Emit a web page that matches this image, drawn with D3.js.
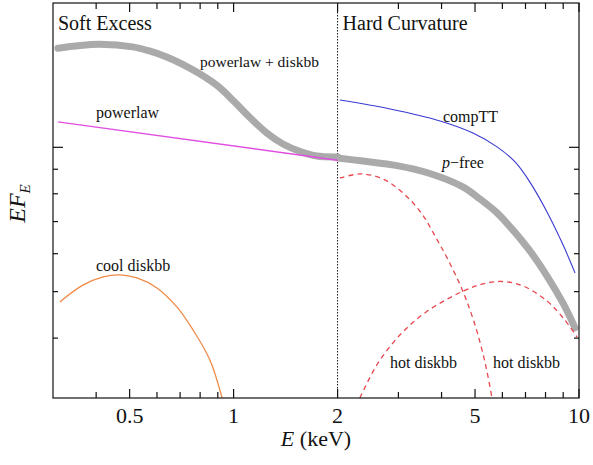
<!DOCTYPE html>
<meta charset="utf-8">
<script src="https://d3js.org/d3.v7.min.js"></script>
<style>
body { margin: 0; background: #fff; }
text { font-family: "Liberation Serif", "Times New Roman", serif; fill: #111; }
</style>
<div id="my_dataviz"></div>
<script>

// spectral components, E in keV, EF_E in arbitrary units (log)
var plddE  = [0.31, 0.35, 0.41, 0.51, 0.57, 0.64, 0.71, 0.80, 0.90, 1.0, 1.12, 1.25, 1.39, 1.56, 1.74, 2.0];
var plddF  = [16.1, 16.27, 16.4, 16.2, 15.89, 15.44, 14.92, 14.22, 13.42, 12.49, 11.5, 10.7, 10.16, 9.80, 9.59, 9.55];

var powerlawE = [0.31, 2.0];
var powerlawF = [11.3, 9.4];

var coolE = [0.314, 0.366, 0.419, 0.469, 0.525, 0.600, 0.686, 0.763, 0.854, 0.926];
var coolF = [4.76, 5.16, 5.37, 5.42, 5.34, 5.09, 4.64, 4.16, 3.60, 3.0];

var pfreeE = [2.0, 2.37, 2.97, 3.70, 4.61, 5.17, 5.79, 6.44, 7.21, 8.08, 8.99, 9.74];
var pfreeF = [9.50, 9.36, 9.16, 8.82, 8.27, 7.80, 7.30, 6.72, 6.08, 5.39, 4.73, 4.20];

var compttE = [2.03, 2.84, 3.96, 4.93, 5.79, 6.53, 7.21, 8.08, 8.99, 9.74];
var compttF = [12.55, 12.02, 11.35, 10.71, 10.02, 9.32, 8.46, 7.33, 6.26, 5.47];

var hot1E = [2.03, 2.35, 2.74, 3.14, 3.51, 3.83, 4.18, 4.61, 5.00, 5.34, 5.60];
var hot1F = [8.63, 8.80, 8.55, 7.95, 7.26, 6.53, 5.82, 5.01, 4.26, 3.57, 3.0];

var hot2E = [2.32, 2.62, 3.07, 3.65, 4.61, 5.27, 5.98, 6.88, 8.08, 8.99, 9.87];
var hot2F = [3.0, 3.55, 4.10, 4.56, 5.01, 5.19, 5.25, 5.14, 4.78, 4.41, 4.02];

var xMajor = [0.5, 1, 2, 5, 10];
var xMinor = [0.4, 0.6, 0.7, 0.8, 0.9, 3, 4, 6, 7, 8, 9];
var yMajor = [10];
var yMinor = [4, 5, 6, 7, 8, 9];

var margin = {top: 3, right: 14, bottom: 67, left: 53},
    width = 593 - margin.left - margin.right,
    height = 465 - margin.top - margin.bottom;

var svg = d3.select("#my_dataviz")
  .append("svg")
    .attr("width", 593)
    .attr("height", 465)
  .append("g")
    .attr("transform", "translate(" + margin.left + "," + margin.top + ")");

var x = d3.scaleLog().domain([0.3, 10]).range([0, width]);
var y = d3.scaleLog().domain([3, 20]).range([height, 0]);

svg.append("clipPath").attr("id", "clip")
  .append("rect").attr("width", width).attr("height", height);

var plot = svg.append("g").attr("clip-path", "url(#clip)");

function pairs(E, F) {
  return E.map(function(e, i) { return [e, F[i]]; });
}
var line = d3.line()
  .x(function(d) { return x(d[0]); })
  .y(function(d) { return y(d[1]); })
  .curve(d3.curveCatmullRom.alpha(0.5));

// dotted divider at 2 keV
plot.append("line")
  .attr("x1", x(2)).attr("x2", x(2))
  .attr("y1", 0).attr("y2", height)
  .attr("stroke", "#111")
  .attr("stroke-width", 1)
  .attr("stroke-dasharray", "1.5 1.5");

// thick grey totals
[[plddE, plddF], [pfreeE, pfreeF]].forEach(function(s) {
  plot.append("path")
    .datum(pairs(s[0], s[1]))
    .attr("fill", "none")
    .attr("stroke", "#aaaaaa")
    .attr("stroke-width", 7)
    .attr("stroke-linecap", "round")
    .attr("d", line);
});

plot.append("path")
  .datum(pairs(powerlawE, powerlawF))
  .attr("fill", "none")
  .attr("stroke", "#e050e0")
  .attr("stroke-width", 1.4)
  .attr("d", line);

plot.append("path")
  .datum(pairs(compttE, compttF))
  .attr("fill", "none")
  .attr("stroke", "#3a3ad0")
  .attr("stroke-width", 1.1)
  .attr("d", line);

plot.append("path")
  .datum(pairs(coolE, coolF))
  .attr("fill", "none")
  .attr("stroke", "#f08a48")
  .attr("stroke-width", 1.3)
  .attr("d", line);

[[hot1E, hot1F], [hot2E, hot2F]].forEach(function(s) {
  plot.append("path")
    .datum(pairs(s[0], s[1]))
    .attr("fill", "none")
    .attr("stroke", "#e8474f")
    .attr("stroke-width", 1.3)
    .attr("stroke-dasharray", "5 4")
    .attr("d", line);
});

// frame
svg.append("rect")
  .attr("width", width).attr("height", height)
  .attr("fill", "none").attr("stroke", "#111").attr("stroke-width", 1.2);

// inward ticks on all four sides
function xTicks(vals, len) {
  vals.forEach(function(v) {
    svg.append("line").attr("x1", x(v)).attr("x2", x(v))
      .attr("y1", height).attr("y2", height - len).attr("stroke", "#111").attr("stroke-width", 1.2);
    svg.append("line").attr("x1", x(v)).attr("x2", x(v))
      .attr("y1", 0).attr("y2", len).attr("stroke", "#111").attr("stroke-width", 1.2);
  });
}
function yTicks(vals, len) {
  vals.forEach(function(v) {
    svg.append("line").attr("y1", y(v)).attr("y2", y(v))
      .attr("x1", 0).attr("x2", len).attr("stroke", "#111").attr("stroke-width", 1.2);
    svg.append("line").attr("y1", y(v)).attr("y2", y(v))
      .attr("x1", width).attr("x2", width - len).attr("stroke", "#111").attr("stroke-width", 1.2);
  });
}
xTicks(xMajor, 9);
xTicks(xMinor, 6);
yTicks(yMajor, 10);
yTicks(yMinor, 5);

svg.selectAll(".xlab")
  .data(xMajor)
  .enter()
  .append("text")
    .attr("x", function(d) { return x(d); })
    .attr("y", height + 25)
    .attr("text-anchor", "middle")
    .attr("font-size", "22px")
    .text(function(d) { return d; });

// axis titles
var xt = svg.append("text")
  .attr("x", width / 2)
  .attr("y", height + 48)
  .attr("text-anchor", "middle")
  .attr("font-size", "22px");
xt.append("tspan").attr("font-style", "italic").text("E");
xt.append("tspan").text(" (keV)");

var yt = svg.append("text")
  .attr("transform", "translate(-28," + (height / 2 + 3) + ") rotate(-90)")
  .attr("text-anchor", "middle")
  .attr("font-size", "24px")
  .attr("font-style", "italic");
yt.append("tspan").text("EF");
yt.append("tspan").attr("font-size", "15px").attr("dy", 5).text("E");

// panel headers and component labels
var labels = [
  {t: "Soft Excess", x: 5, y: 27, s: 20},
  {t: "Hard Curvature", x: x(2) + 5, y: 27, s: 20},
  {t: "powerlaw + diskbb", x: 147, y: 64, s: 15.5},
  {t: "powerlaw", x: 43, y: 115, s: 16},
  {t: "compTT", x: 390, y: 119, s: 16},
  {t: "cool diskbb", x: 43, y: 268, s: 16},
  {t: "hot diskbb", x: 337, y: 365, s: 16},
  {t: "hot diskbb", x: 440, y: 365, s: 16}
];
labels.forEach(function(l) {
  svg.append("text").attr("x", l.x).attr("y", l.y)
    .attr("font-size", l.s + "px").text(l.t);
});
var pf = svg.append("text").attr("x", 389).attr("y", 165).attr("font-size", "16px");
pf.append("tspan").attr("font-style", "italic").text("p");
pf.append("tspan").text("\u2212free");

</script>
